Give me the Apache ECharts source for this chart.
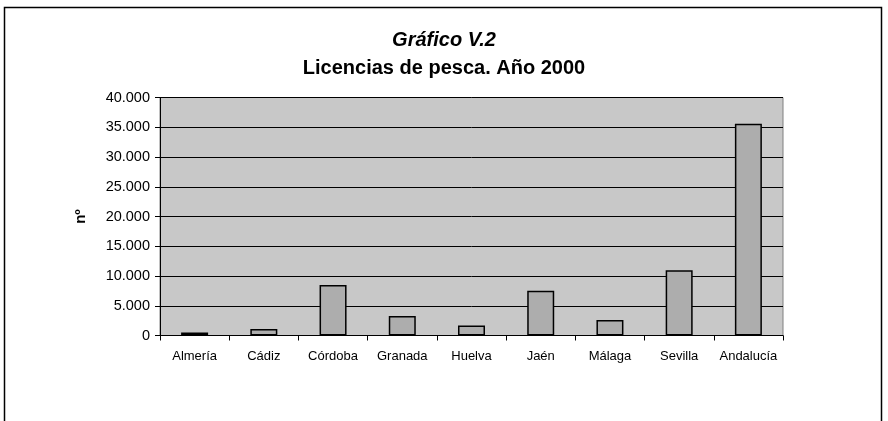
<!DOCTYPE html>
<html>
<head>
<meta charset="utf-8">
<style>
  html, body { margin: 0; padding: 0; background: #fff; }
  #main { width: 888px; height: 421px; }
</style>
<script src="https://cdn.jsdelivr.net/npm/echarts@6/dist/echarts.min.js"></script>
</head>
<body>
<div id="main"></div>
<script>
var provincias = ['Almería', 'Cádiz', 'Córdoba', 'Granada', 'Huelva', 'Jaén', 'Málaga', 'Sevilla', 'Andalucía'];
var licencias = [520, 1080, 8480, 3260, 1700, 7520, 2600, 10950, 35600];
var yTicks = [0, 5000, 10000, 15000, 20000, 25000, 30000, 35000, 40000];

function miles(v) {
    return String(v).replace(/\B(?=(\d{3})+(?!\d))/g, '.');
}

var chart = echarts.init(document.getElementById('main'), null, { renderer: 'canvas' });
var fnt = 'Liberation Sans, Arial, sans-serif';
var option = {
    animation: false,
    backgroundColor: '#fff',
    textStyle: { fontFamily: fnt },
    graphic: [{
        type: 'rect',
        shape: { x: 4.5, y: 7.5, width: 877, height: 430 },
        style: { fill: 'none', stroke: '#000', lineWidth: 1.5 },
        silent: true
    }],
    title: [
        {
            text: 'Gráfico V.2',
            left: 'center', top: 25,
            textStyle: { fontSize: 20, fontWeight: 'bold', fontStyle: 'italic', color: '#000', fontFamily: fnt }
        },
        {
            text: 'Licencias de pesca. Año 2000',
            left: 'center', top: 53,
            textStyle: { fontSize: 20, fontWeight: 'bold', color: '#000', fontFamily: fnt }
        }
    ],
    grid: {
        left: 160, top: 97.5, right: 105, bottom: 85.5,
        show: true,
        backgroundColor: '#c8c8c8',
        borderColor: '#808080',
        borderWidth: 1
    },
    xAxis: {
        type: 'category',
        data: provincias,
        axisLine: { lineStyle: { color: '#000', width: 1 } },
        axisTick: { show: true, length: 5, inside: false, lineStyle: { color: '#000' } },
        axisLabel: { fontSize: 13, color: '#000', margin: 14, interval: 0 },
        splitLine: { show: false }
    },
    yAxis: {
        type: 'value',
        min: yTicks[0],
        max: yTicks[yTicks.length - 1],
        interval: 5000,
        name: 'n\u00ba',
        nameLocation: 'middle',
        nameGap: 72,
        nameRotate: 90,
        nameTextStyle: { fontSize: 15, fontWeight: 'bold', color: '#000' },
        axisLine: { show: true, lineStyle: { color: '#000', width: 1 } },
        axisTick: { show: true, length: 5, lineStyle: { color: '#000' } },
        axisLabel: { fontSize: 14.5, color: '#000', margin: 10, formatter: miles },
        splitLine: { show: true, lineStyle: { color: '#000', width: 1 } }
    },
    series: [{
        type: 'bar',
        data: licencias,
        barWidth: '39%',
        itemStyle: { color: '#adadad', borderColor: '#000', borderWidth: 1.5 }
    }]
};
chart.setOption(option);
</script>
</body>
</html>
